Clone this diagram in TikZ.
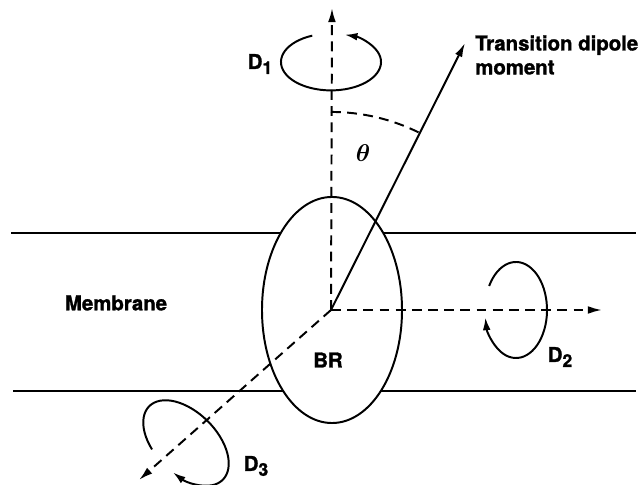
\documentclass[tikz,border=0pt]{standalone}
\usepackage{amsmath,bm}
\usepackage{fontspec}
\setsansfont{TeX Gyre Heros}[BoldFeatures={FakeBold=1.3}]
\usetikzlibrary{arrows.meta,shapes.geometric}
\newcommand{\Dn}[1]{D\raisebox{-0.45ex}{\fontsize{12.5}{13}\selectfont #1}}

\begin{document}
\begin{tikzpicture}[
    x=0.025cm, y=0.025cm,
    lbl/.style={font=\fontsize{14.5}{17}\selectfont\sffamily\bfseries, inner sep=0pt},
    memb/.style={line width=1.3pt},
    axis/.style={-{Latex[length=10pt,width=5.5pt]}, line width=1.4pt, dash pattern=on 7pt off 4.5pt},
    dipole/.style={-{Latex[length=10pt,width=5.5pt]}, line width=1.4pt},
    rot/.style={-{Latex[length=9pt,width=5.5pt]}, line width=1.4pt},
    angarc/.style={line width=1.4pt, dash pattern=on 7pt off 4.5pt}
]
\useasboundingbox (0,0) rectangle (638,485);

% membrane
\coordinate (mTL) at (11,252);
\coordinate (mTR) at (636,252);
\coordinate (mBL) at (13,94);
\coordinate (mBR) at (636,94);
\draw[memb] (mTL) -- (mTR);
\draw[memb] (mBL) -- (mBR);

% BR molecule
\coordinate (O) at (331,175);
\node[draw, ellipse, fill=white, line width=1.4pt, inner sep=0pt,
      minimum width=3.5cm, minimum height=5.65cm] (BR) at (332,175) {};
\node[lbl] (brlabel) at (328,125) {BR};
\node[lbl] (membrane) at (116,182) {Membrane};

% axes
\coordinate (zTip) at (332,477);
\coordinate (xTip) at (602,175);
\coordinate (yTip) at (139,5);
\coordinate (muTip) at (465,442);
\draw[axis] (O) -- (zTip);
\draw[axis] (O) -- (xTip);
\draw[axis] (O) -- (yTip);
\draw[dipole] (O) -- (muTip);
\node[lbl, anchor=north west, align=left] (tdm) at (475,450) {Transition dipole\\moment};

% angle
\draw[angarc] ([shift={(90:4.95cm)}]O) arc[start angle=90, end angle=63.4, radius=4.95cm];
\node[lbl, font=\fontsize{16}{17}\selectfont] (theta) at (363,332) {$\bm{\theta}$};

% rotations
\coordinate (c1) at (331,423);
\draw[rot] ([shift={(112:1.25cm and 0.71cm)}]c1)
    arc[start angle=112, end angle=434, x radius=1.25cm, y radius=0.71cm];
\node[lbl] (d1) at (260,421) {\Dn{1}};

\coordinate (c2) at (516,175);
\draw[rot] ([shift={(150:0.775cm and 1.2cm)}]c2)
    arc[start angle=150, end angle=-171, x radius=0.775cm, y radius=1.2cm];
\node[lbl] (d2) at (560,128) {\Dn{2}};

\coordinate (c3) at (186,42);
\begin{scope}[shift={(c3)}, rotate=-45]
  \draw[rot] (-112:1.3cm and 0.77cm)
      arc[start angle=-112, end angle=-437, x radius=1.3cm, y radius=0.77cm];
\end{scope}
\node[lbl] (d3) at (256,19) {\Dn{3}};
\end{tikzpicture}
\end{document}
